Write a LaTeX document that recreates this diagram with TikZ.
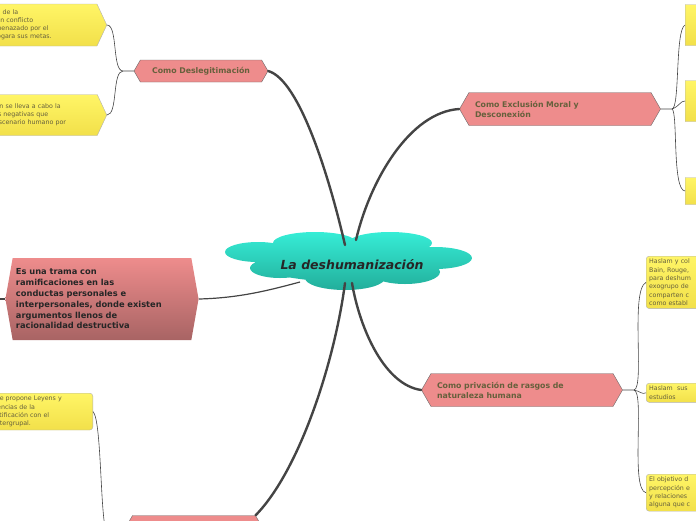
\documentclass[tikz,border=0pt]{standalone}
\usepackage{fontspec}
\setmainfont{DejaVu Sans}
\usetikzlibrary{positioning,shapes.symbols,calc}
\definecolor{mmPink}{HTML}{EE8C8C}
\definecolor{mmPinkDk}{HTML}{A86464}
\definecolor{mmYellow}{HTML}{FFF566}
\definecolor{mmYellowDk}{HTML}{F2E04A}
\definecolor{mmOlive}{HTML}{66603C}
\definecolor{mmTeal}{HTML}{36EDD6}
\definecolor{mmTealDk}{HTML}{22AE9B}
\definecolor{mmLine}{HTML}{444444}
\tikzset{
  topicnode/.style={shape=signal, signal to=west and east, signal pointer angle=120,
                    draw=mmLine!80, fill=mmPink, text=mmOlive, align=left,
                    font=\fontsize{7.8}{10}\selectfont\bfseries, inner xsep=6pt},
  leafhex/.style={shape=signal, signal to=east, signal pointer angle=130,
                  draw=black!30, top color=mmYellow, bottom color=mmYellowDk,
                  text=mmOlive, align=left, font=\fontsize{6.3}{8}\selectfont, inner sep=2pt},
  leafbox/.style={draw=black!30, rounded corners=3pt, top color=mmYellow,
                  bottom color=mmYellowDk, text=mmOlive, align=left,
                  font=\fontsize{6.3}{8.3}\selectfont, inner sep=3pt},
  mainlink/.style={draw=mmLine, line width=2.4pt, line cap=round},
  sublink/.style={draw=mmLine, line width=0.6pt},
}
\begin{document}
\begin{tikzpicture}[x=1pt,y=-1pt]
\useasboundingbox (0,0) rectangle (696,520);

%% Central idea
\shade[top color=mmTeal, bottom color=mmTealDk]
  (258,252) ellipse (33 and 10) (315,243) ellipse (42 and 11)
  (390,243) ellipse (42 and 11) (435,258) ellipse (37 and 11)
  (405,272) ellipse (35 and 12) (345,278) ellipse (40 and 12)
  (280,268) ellipse (30 and 10) (350,262) ellipse (95 and 20);
\node[font=\fontsize{12.5}{14}\selectfont\bfseries\itshape, text=black!85] (root) at (352,265) {La deshumanización};

%% Topics
\node[topicnode, minimum width=134pt, minimum height=22pt] (desleg) at (201,71) {Como Deslegitimación};
\node[topicnode, minimum width=196pt, minimum height=33pt, text width=170pt] (exclus) at (560,109) {Como Exclusión Moral y\\Desconexión};
\node[topicnode, minimum width=196pt, minimum height=33pt, text width=170pt] (privac) at (522,390) {Como privación de rasgos de\\naturaleza humana};
\node[topicnode, minimum width=142pt, minimum height=33pt] (bottom) at (194,532) {};
\node[shape=signal, signal to=west and east, signal pointer angle=160, draw=none,
      top color=mmPink, bottom color=mmPinkDk, text=black!85, align=left,
      text width=172pt, minimum height=82pt,
      font=\fontsize{8.3}{10.8}\selectfont\bfseries] (trama) at (102,299)
  {Es una trama con\\ramificaciones en las\\conductas personales e\\interpersonales, donde existen\\argumentos llenos de\\racionalidad destructiva};

%% Main links
\draw[mainlink] (desleg.east) .. controls (300,80) and (330,180) .. (345,245);
\draw[mainlink] (exclus.west) .. controls (410,112) and (370,180) .. (356,240);
\draw[mainlink] (privac.west) .. controls (385,385) and (360,330) .. (352,283);
\draw[mainlink] (bottom.north east) .. controls (300,470) and (335,360) .. (345,283);
\draw[sublink, line width=1.2pt] (trama.east) .. controls (240,298) and (270,290) .. (300,282);
\draw[sublink, line width=1.6pt] (trama.west) -- (0,299);

%% Leaves of Deslegitimación
\node[leafhex, minimum height=42pt, text width=112pt, anchor=east] (dl1) at (107,25)
  {timas de la\\con un conflicto\\te amenazado por el\\ara logara sus metas.};
\node[leafhex, minimum height=41pt, text width=112pt, anchor=east] (dl2) at (107,115)
  {zación se lleva a cabo la\\sticas negativas que\\del escenario humano por};
\draw[sublink] (desleg.west) -- (123,71) .. controls (112,71) and (118,25) .. (dl1.east);
\draw[sublink] (123,71) .. controls (112,71) and (118,115) .. (dl2.east);

%% Leaves of Exclusión
\node[leafhex, minimum height=41pt, minimum width=30pt, anchor=west] (ex1) at (685,25) {};
\node[leafhex, minimum height=41pt, minimum width=30pt, anchor=west] (ex2) at (685,101) {};
\node[leafhex, minimum height=27pt, minimum width=30pt, anchor=west] (ex3) at (685,191) {};
\draw[sublink] (exclus.east) -- (672,109) .. controls (680,108) and (675,30) .. (ex1.west);
\draw[sublink] (672,109) .. controls (680,106) and (680,101) .. (ex2.west);
\draw[sublink] (672,109) .. controls (678,112) and (672,190) .. (ex3.west);

%% Leaves of privación
\node[leafbox, text width=60pt, anchor=north west] (pr1) at (646,256)
  {Haslam y col\\Bain, Rouge,\\para deshum\\exogrupo de\\comparten c\\como establ};
\node[leafbox, text width=60pt, anchor=north west] (pr2) at (646,383) {Haslam\ \ sus\\estudios};
\node[leafbox, text width=60pt, anchor=north west] (pr3) at (646,474)
  {El objetivo d\\percepción e\\y relaciones\\alguna que c};
\draw[sublink] (privac.east) -- (634,390) .. controls (645,388) and (630,290) .. (pr1.west);
\draw[sublink] (634,390) .. controls (640,391) and (642,395) .. (pr2.west);
\draw[sublink] (634,390) .. controls (645,392) and (630,490) .. (pr3.west);

%% Leaves of the bottom topic
\node[leafbox, text width=104pt, anchor=north east] (bt1) at (93,393)
  {a que propone Leyens y\\ecuencias de la\\identificación con el\\to intergrupal.};
\node[leafbox, text width=104pt, anchor=north east] (bt2) at (93,528)
  {ente ilógica que los\\strucciones sociales.};
\draw[sublink] (bottom.west) -- (107,532) .. controls (100,525) and (102,420) .. (bt1.east);
\draw[sublink] (107,532) .. controls (100,532) and (98,540) .. (bt2.east);
\end{tikzpicture}
\end{document}
